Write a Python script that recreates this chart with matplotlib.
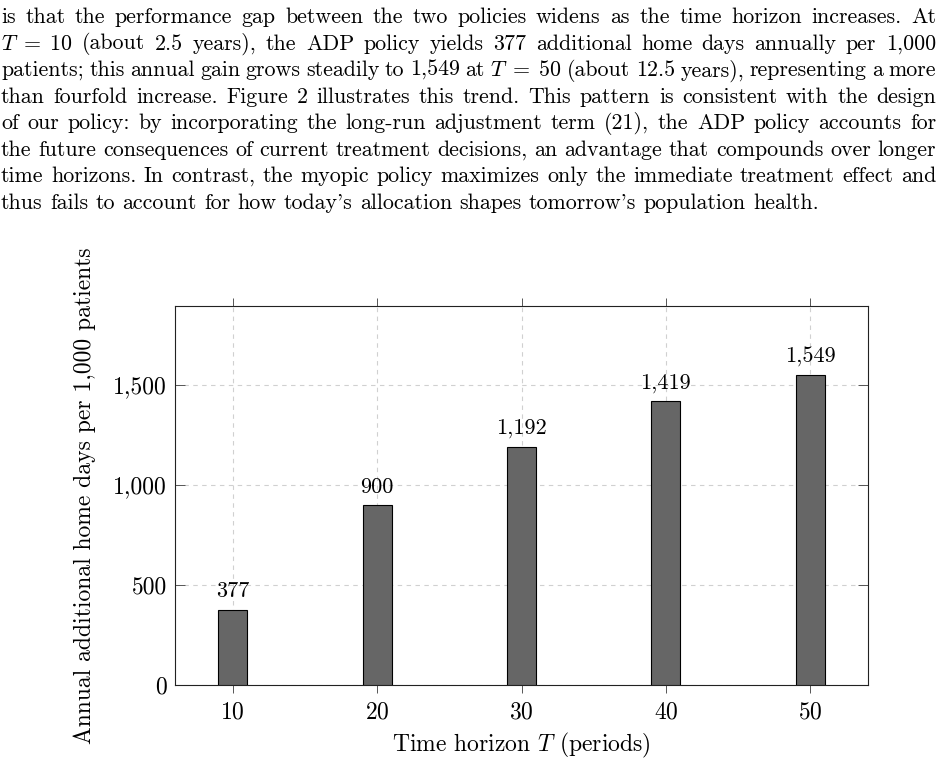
#!/usr/bin/env python3
"""Bar chart of annual additional home days vs. time horizon, with the paper paragraph above it."""

import matplotlib
matplotlib.use("Agg")
import matplotlib.pyplot as plt
from matplotlib.ticker import FuncFormatter

# data
horizons = [10, 20, 30, 40, 50]
home_days = [377, 900, 1192, 1419, 1549]
y_ticks = [0, 500, 1000, 1500]

paragraph = [
    "is that the performance gap between the two policies widens as the time horizon increases.  At",
    r"$T\;=\;10$ (about 2.5 years), the ADP policy yields 377 additional home days annually per 1,000",
    r"patients; this annual gain grows steadily to 1,549 at $T\;=\;50$ (about 12.5 years), representing a more",
    "than fourfold increase.  Figure 2 illustrates this trend.  This pattern is consistent with the design",
    "of our policy: by incorporating the long-run adjustment term (21), the ADP policy accounts for",
    "the future consequences of current treatment decisions, an advantage that compounds over longer",
    "time horizons.  In contrast, the myopic policy maximizes only the immediate treatment effect and",
    "thus fails to account for how today's allocation shapes tomorrow's population health.",
]

plt.rcParams["font.family"] = "serif"
plt.rcParams["font.serif"] = ["cmr10"]
plt.rcParams["mathtext.fontset"] = "cm"
plt.rcParams["axes.formatter.use_mathtext"] = True

W, H = 938, 764
fig = plt.figure(figsize=(W / 100, H / 100), dpi=100)


def tokens(line):
    """Split on spaces but keep $...$ math together."""
    out, buf, in_math = [], "", False
    for part in line.split():
        if in_math:
            buf += " " + part
            if part.endswith("$"):
                out.append(buf)
                in_math = False
        elif part.startswith("$") and not (part.endswith("$") and len(part) > 1):
            buf, in_math = part, True
        else:
            out.append(part)
    return out


def text_width(s, size, renderer):
    t = fig.text(0, 0, s, fontsize=size)
    w = t.get_window_extent(renderer).width
    t.remove()
    return w


# justified paragraph
renderer = fig.canvas.get_renderer()
body_size = 15.8
x_left, x_right = 1, 936
y0, line_step = 17.5, 26.5
natural_gap = 0.333 * body_size * 100 / 72

for i, line in enumerate(paragraph):
    words = tokens(line)
    y = 1 - (y0 + i * line_step) / H
    widths = [text_width(w, body_size, renderer) for w in words]
    if i == len(paragraph) - 1:
        gap = natural_gap
    else:
        gap = (x_right - x_left - sum(widths)) / (len(words) - 1)
    x = x_left
    for w, wd in zip(words, widths):
        fig.text(x / W, y, w, fontsize=body_size, va="center", ha="left")
        x += wd + gap

# chart
ax = fig.add_axes([175 / W, 1 - 685 / H, (868 - 175) / W, (685 - 306) / H])
ax.bar(horizons, home_days, width=2, color="#666666", edgecolor="black",
       linewidth=0.8, zorder=3)
for h, v in zip(horizons, home_days):
    ax.annotate(f"{v:,}", (h, v), xytext=(0, 6), textcoords="offset points",
                ha="center", va="bottom", fontsize=16)

ax.set_xlim(6, 54)
ax.set_ylim(0, 1895)
ax.set_xticks(horizons)
ax.set_yticks(y_ticks)
ax.yaxis.set_major_formatter(FuncFormatter(lambda v, p: f"{v:,.0f}"))
ax.grid(True, color="#d0d0d0", linestyle=(0, (4, 4)), linewidth=0.8, zorder=0)
ax.set_axisbelow(True)

ax.tick_params(axis="x", direction="out", top=True, length=6, width=0.7,
               color="#555555", labelsize=17, pad=6)
ax.tick_params(axis="y", direction="in", right=True, length=7, width=0.7,
               color="#555555", labelsize=17, pad=6)
for s in ax.spines.values():
    s.set_color("#222222")
    s.set_linewidth(0.8)

ax.set_xlabel("Time horizon $T$ (periods)", fontsize=17, labelpad=5)
ax.set_ylabel("Annual additional home days per 1,000 patients", fontsize=17, labelpad=12)

fig.savefig("out.png", dpi=100)
